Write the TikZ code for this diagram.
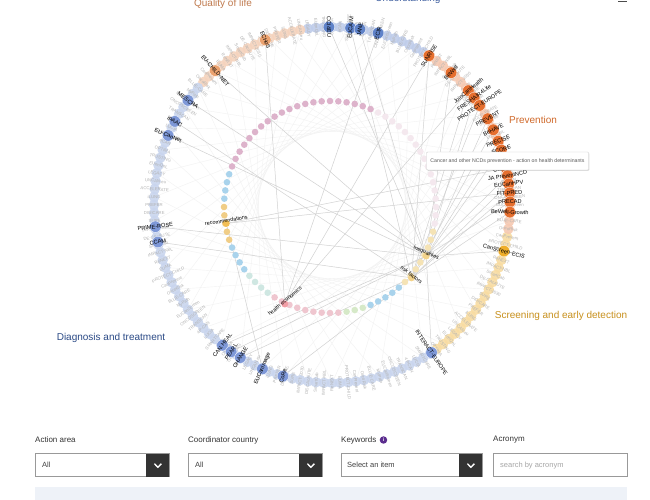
\documentclass[tikz,border=0pt]{standalone}
\usepackage{fontspec}
\setmainfont{Liberation Sans}
\usetikzlibrary{positioning,shadows}

\definecolor{prevlt}{HTML}{F6C9B2}
\definecolor{undlt}{HTML}{BFCDEA}
\definecolor{qollt}{HTML}{F5D3BD}
\definecolor{diaglt}{HTML}{C9D5EE}
\definecolor{scrlt}{HTML}{F8DCA2}
\definecolor{prevsel}{HTML}{E66F2F}
\definecolor{undsel}{HTML}{5F82C9}
\definecolor{qolsel}{HTML}{EBA26F}
\definecolor{diagsel}{HTML}{7E98D8}
\definecolor{scrsel}{HTML}{EFAE2A}
\definecolor{prevtxt}{HTML}{D0692A}
\definecolor{undtxt}{HTML}{3F5FA0}
\definecolor{qoltxt}{HTML}{C07A4E}
\definecolor{diagtxt}{HTML}{2B4A86}
\definecolor{scrtxt}{HTML}{C8901C}
\definecolor{keyinfo}{HTML}{5B2D8E}
\definecolor{bandfill}{HTML}{EEF2F8}
% inner ring colours
\definecolor{inA}{HTML}{F4E8EE}
\definecolor{inB}{HTML}{DDB3CB}
\definecolor{inC}{HTML}{A9D3EC}
\definecolor{inD}{HTML}{F0CD86}
\definecolor{inE}{HTML}{CFE7E2}
\definecolor{inF}{HTML}{EFC6CF}
\definecolor{inG}{HTML}{D6E9C8}
\definecolor{inH}{HTML}{F5E3B5}

\pgfdeclarelayer{back}
\pgfdeclarelayer{lines}
\pgfsetlayers{back,lines,main}

\newcommand\ringname[1]{\ifcase#1 EUCanScreen\or ONCOSCREEN\or TRANSCAN\or 4P-CAN\or LUCIA\or
  SMARTCARE\or eCAN\or OPTIMA\or TRUSTING\or EUonQoL\or LEGACY\or UNCAN.eu\or ACCELERATE\or
  iLUNG\or PREFER\or DIGICARE\or SURE\or IMPACT-2030\or DE-CAcAUTE\or SmartCab\or IMPACT-NBL\or
  ReNEXT\or EUMA\or PROTECT-CHILD\or CanPrevent\or OncoRisk\or BLUE-CARE\or MyPath\fi}

\tikzset{
  ringdot/.style={circle, fill=#1, draw=none, inner sep=0pt, minimum size=10.5pt, opacity=.9},
  pickdot/.style={circle, fill=#1, draw=white, line width=.3pt, inner sep=0pt, minimum size=11.5pt},
  ringlab/.style={font=\fontsize{4.3}{5}\selectfont, text=black!30, inner sep=0pt},
  picklab/.style={font=\fontsize{5.6}{6}\selectfont, text=black, inner sep=0pt},
  keydot/.style={circle, fill=#1, inner sep=0pt, minimum size=7pt},
  keylab/.style={font=\fontsize{5.4}{6}\selectfont, text=black, inner sep=0pt},
  link/.style={draw=black!18, line width=.5pt},
  faint/.style={draw=black!5, line width=.4pt},
  area/.style={font=\fontsize{10}{12}\selectfont, inner sep=0pt},
  fieldlab/.style={font=\fontsize{8}{10}\selectfont, text=black!80, anchor=west, inner sep=0pt},
  field/.style={draw=black!40, fill=white, line width=.6pt, minimum height=23pt, inner sep=0pt, anchor=south west},
  darkbtn/.style={fill=black!80, minimum width=23pt, minimum height=23pt, inner sep=0pt, anchor=south east},
  fieldtext/.style={font=\fontsize{7.5}{9}\selectfont, anchor=west, inner sep=0pt},
  chev/.style={draw=white, line width=1.3pt},
  tipbox/.style={draw=black!20, fill=white, rounded corners=1pt,
    drop shadow={opacity=.25, shadow xshift=.8pt, shadow yshift=-.8pt},
    font=\fontsize{5.2}{6}\selectfont, text=black!65, inner xsep=4pt, minimum height=18pt},
}

\begin{document}
\begin{tikzpicture}[x=1pt,y=1pt]
  \useasboundingbox (0,0) rectangle (650,500);
  \begin{pgfonlayer}{back}
    \fill[white] (0,0) rectangle (650,500);
  \end{pgfonlayer}

  % area titles
  \node[area, text=qoltxt] (qoltitle) at (223,496) {Quality of life};
  \node[area, text=undtxt] (undtitle) at (408,501) {Understanding};
  \node[area, text=prevtxt] (prevtitle) at (533,380) {Prevention};
  \node[area, text=scrtxt] (scrtitle) at (561,184) {Screening and early detection};
  \node[area, text=diagtxt] (diagtitle) at (111,162) {Diagnosis and treatment};
  \draw[black!70, line width=1pt] (618,498) -- (627,498);

  % outer ring: all actions
  \begin{scope}[shift={(332,295)}]
    \foreach \k in {0,...,139}{
      \pgfmathsetmacro\a{\k*2.5714286}
      \pgfmathtruncatemacro\cat{\a<57 ? 0 : (\a<100 ? 1 : (\a<138 ? 2 : (\a<305 ? 3 : (\a<352 ? 4 : 0))))}
      \ifcase\cat \def\col{prevlt}\or \def\col{undlt}\or \def\col{qollt}\or \def\col{diaglt}\or \def\col{scrlt}\fi
      \pgfmathsetmacro\rot{(\a>90 && \a<270) ? \a-180 : \a}
      \pgfmathtruncatemacro\m{mod(\k,28)}
      \node[ringdot=\col] (p\k) at (\a:178) {};
      \node[ringlab, rotate=\rot] at (p\k) {\ringname{\m}};
    }
    % actions linked to the keywords
    \foreach \nm/\a/\col/\lab in {
      u1/91/undsel/CCI4EU, u2/84/undsel/EUCAIM, u3/81/undsel/JANE, u4/75/undsel/ECIR,
      q1/112/qolsel/ECHoS, q2/131/qolsel/EU-CHILD-NET,
      d1/144/diagsel/MESCRA, d2/152/diagsel/iPAAC, d3/157/diagsel/EU-CanNet,
      d4/187/diagsel/PRIME-ROSE, d5/192/diagsel/CCAM, d6/232/diagsel/CAN.HEAL,
      d7/235.5/diagsel/PEARL, d8/239/diagsel/CHANGE, d9/247/diagsel/EUCanImage,
      d10/254/diagsel/CoRe, d11/304/diagsel/INTERACT-EUROPE,
      s1/345/scrsel/CanScreen-ECIS,
      pr1/57/prevsel/SUNRISE, pr2/48/prevsel/BeWell, pr3/40/prevsel/JoinCanHealth,
      pr4/37/prevsel/FRESHAIR4Life, pr5/34/prevsel/PROTECT-EUROPE, pr6/29/prevsel/PREVENT,
      pr7/25/prevsel/BeHAVE, pr8/21/prevsel/PRECISE, pr9/18/prevsel/SCORE,
      pr10/12/prevsel/CanCheck, pr11/9.5/prevsel/JA PreventNCD, pr12/6.8/prevsel/EUCanHPV,
      pr13/3.9/prevsel/FIT-PRED, pr14/1/prevsel/PRECAD, pr15/357.7/prevsel/BeWell-Growth}{
      \pgfmathsetmacro\rot{(\a>90 && \a<270) ? \a-180 : \a}
      \node[pickdot=\col] (\nm) at (\a:178) {};
      \node[picklab, rotate=\rot] at (\nm) {\lab};
    }
  \end{scope}

  % inner ring: keywords
  \begin{scope}[shift={(330,293)}]
    \foreach \k in {0,...,79}{
      \pgfmathsetmacro\a{\k*4.5}
      \pgfmathtruncatemacro\cat{\a<65 ? 0 : (\a<158 ? 1 : (\a<180 ? 2 : (\a<200 ? 3 : (\a<218 ? 2 : (\a<238 ? 4 : (\a<278 ? 5 : (\a<290 ? 6 : (\a<312 ? 2 : (\a<350 ? 7 : 0)))))))))}
      \ifcase\cat \def\col{inA}\or \def\col{inB}\or \def\col{inC}\or \def\col{inD}\or \def\col{inE}\or \def\col{inF}\or \def\col{inG}\or \def\col{inH}\fi
      \fill[\col] (\a:106) circle (3.3);
    }
    \node[keydot=scrsel!80] (recommendations) at (189:105) {};
    \node[keydot=inF!80!red] (healtheconomics) at (245:107) {};
    \node[keydot=inH!70!scrsel] (riskfactors) at (319:108) {};
    \node[keydot=inH!70!scrsel] (inequalities) at (333:108) {};
    \node[keylab, rotate=9] at ([yshift=3pt]recommendations) {recommendations};
    \node[keylab, rotate=40] at ([yshift=3pt]healtheconomics) {health economics};
    \node[keylab, rotate=-38] at ([yshift=3pt]riskfactors) {risk factors};
    \node[keylab, rotate=-24] at ([yshift=3pt]inequalities) {inequalities};
  \end{scope}

  \begin{pgfonlayer}{lines}
    \foreach \k in {0,3,...,139}{
      \pgfmathtruncatemacro\j{mod(\k+51,140)}
      \draw[faint] (p\k) -- (p\j);
    }
    \foreach \s/\t in {inequalities/u1, inequalities/u3, inequalities/q2, inequalities/d1,
      inequalities/d3, inequalities/d4, inequalities/d6, inequalities/d7, inequalities/d11,
      inequalities/s1, inequalities/pr2, inequalities/pr4, inequalities/pr6, inequalities/pr8,
      inequalities/pr11, inequalities/pr14,
      riskfactors/u2, riskfactors/d2, riskfactors/d5, riskfactors/d8, riskfactors/d10,
      riskfactors/pr1, riskfactors/pr3, riskfactors/pr5, riskfactors/pr7, riskfactors/pr9,
      riskfactors/pr12, riskfactors/pr13, riskfactors/pr15,
      recommendations/d9, recommendations/pr13, recommendations/pr10,
      healtheconomics/u4, healtheconomics/pr1, healtheconomics/pr3, healtheconomics/q1}
      \draw[link] (\s) -- (\t);
  \end{pgfonlayer}

  % tooltip
  \node[tipbox] (tooltip) at (507.5,339) {Cancer and other NCDs prevention - action on health determinants};

  % filter form
  \node[fieldlab] (arealab) at (35,60) {Action area};
  \node[fieldlab] (countrylab) at (188,60) {Coordinator country};
  \node[fieldlab] (keylab) at (341,60) {Keywords};
  \node[circle, fill=keyinfo, inner sep=0pt, minimum size=7.5pt, text=white,
    font=\fontsize{5}{5}\selectfont\bfseries, right=3pt of keylab] (keyinfo) {i};
  \node[fieldlab] (acrolab) at (493,60) {Acronym};

  \node[field, minimum width=134pt] (areabox) at (35,23) {};
  \node[field, minimum width=134pt] (countrybox) at (188,23) {};
  \node[field, minimum width=141pt] (keybox) at (341,23) {};
  \node[field, minimum width=134pt] (acrobox) at (493,23) {};
  \foreach \b in {areabox,countrybox,keybox}{
    \node[darkbtn] (\b btn) at (\b.south east) {};
    \draw[chev] ([xshift=-3.5pt,yshift=1.6pt]\b btn.center) -- ([yshift=-2pt]\b btn.center)
      -- ([xshift=3.5pt,yshift=1.6pt]\b btn.center);
  }
  \node[fieldtext, text=black!75] (areaval) at ([xshift=7pt]areabox.west) {All};
  \node[fieldtext, text=black!75] (countryval) at ([xshift=7pt]countrybox.west) {All};
  \node[fieldtext, text=black!75] (keyval) at ([xshift=6pt]keybox.west) {Select an item};
  \node[fieldtext, text=black!35] (acroval) at ([xshift=7pt]acrobox.west) {search by acronym};
  \fill[bandfill] (35,0) rectangle (627,13);
\end{tikzpicture}
\end{document}
